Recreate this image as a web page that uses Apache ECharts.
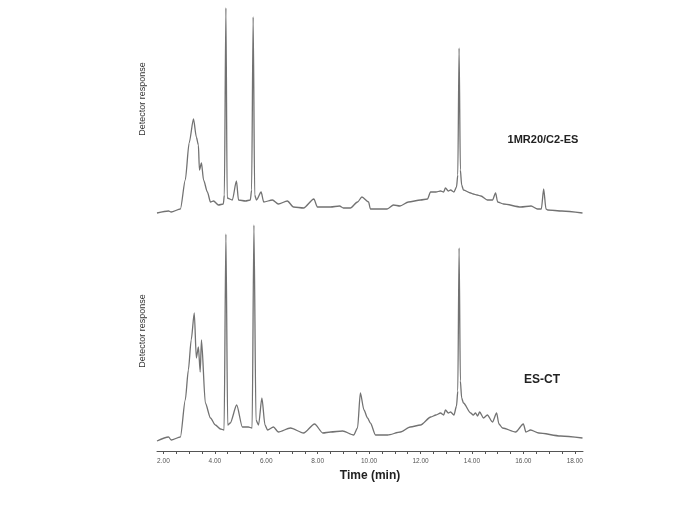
<!DOCTYPE html>
<html><head><meta charset="utf-8">
<script src="https://cdn.jsdelivr.net/npm/echarts@6/dist/echarts.min.js"></script>
<style>html,body{margin:0;padding:0;background:#fff}#c{width:685px;height:505px}</style>
</head><body><div id="c"></div>
<script>
// Time (min) and detector response (arbitrary units) for sample 1MR20/C2-ES
const topTime = [1.75,2.2,2.3,2.66,2.85,3.0,3.17,3.28,3.36,3.4,3.48,3.56,3.71,3.83,3.95,4.14,4.33,4.37,4.43,4.48,4.68,4.84,4.92,5.19,5.38,5.43,5.49,5.55,5.62,5.8,5.9,6.24,6.47,6.82,7.06,7.45,7.85,7.99,8.5,8.85,9.0,9.27,9.55,9.72,9.98,10.05,10.7,10.95,11.2,11.53,12.0,12.27,12.39,12.6,12.78,12.9,12.97,13.08,13.17,13.3,13.4,13.45,13.5,13.55,13.6,13.67,13.95,14.05,14.2,14.35,14.6,14.8,14.92,15.0,15.23,15.9,16.3,16.55,16.7,16.79,16.88,16.95,17.5,18.3];
const topResp = [2,4,3,6,35,72,96,78,70,45,52,35,23,13,14,10,11,20,207,17,15,34,15,14,15,25,198,20,15,23,13,15,11,14,8,7,16,8,8,9,7,7,13,18,13,6,6,10,9,13,15,16,23,23,24,23,27,24,25,23,28,40,167,45,30,25,22,21,20,19,15,15,22,13,11,8,9,6,6,26,6,5,4,2];
// Time (min) and detector response for sample ES-CT
const botTime = [1.75,2.2,2.3,2.66,2.85,2.97,3.08,3.2,3.28,3.36,3.43,3.48,3.63,3.83,4.02,4.22,4.36,4.43,4.5,4.6,4.85,5.07,5.3,5.45,5.52,5.6,5.7,5.83,5.95,6.05,6.28,6.47,6.94,7.45,7.88,8.2,8.5,8.97,9.4,9.55,9.66,9.8,9.94,10.05,10.25,10.72,11.22,11.6,12.0,12.4,12.6,12.78,12.9,12.97,13.08,13.17,13.3,13.4,13.45,13.5,13.55,13.6,13.67,13.95,14.05,14.14,14.22,14.3,14.45,14.6,14.8,14.96,15.05,15.19,15.7,16.0,16.1,16.28,16.6,17.45,18.3];
const botResp = [10,14,11,14,51,81,111,138,93,104,79,111,48,33,26,22,21,217,26,28,46,24,24,23,226,31,26,53,26,21,24,19,23,18,27,18,19,20,16,23,58,41,33,28,16,16,19,24,26,34,36,38,36,41,38,39,36,45,60,203,70,53,48,38,36,38,35,39,33,36,29,38,27,23,19,27,19,21,18,15,13];
const xLabels = [2,4,6,8,10,12,14,16,18];
const xTicks = [2,2.5,3,3.5,4,4.5,5,5.5,6,6.5,7,7.5,8,8.5,9,9.5,10,10.5,11,11.5,12,12.5,13,13.5,14,14.5,15,15.5,16,16.5,17,17.5,18];

const zip = (a,b) => a.map((t,i)=>[t,b[i]]);
const chart = echarts.init(document.getElementById('c'), null, {renderer:'canvas'});
const lineStyle = {color:'#727272', width:1.3};
const FONT = 'Liberation Sans, Arial, sans-serif';
chart.setOption({
  animation:false,
  backgroundColor:'#fff',
  grid:[
    {left:157, right:102, top:0, height:215},
    {left:157, right:102, top:220, height:231}
  ],
  xAxis:[
    {gridIndex:0, type:'value', min:1.75, max:18.32, show:false},
    {gridIndex:1, type:'value', min:1.75, max:18.32,
     name:'Time (min)', nameLocation:'middle', nameGap:19,
     nameTextStyle:{fontFamily:FONT, fontWeight:'bold', fontSize:12, color:'#222'},
     axisLine:{lineStyle:{color:'#555', width:1}},
     axisTick:{customValues:xTicks, length:3, lineStyle:{color:'#555'}},
     axisLabel:{customValues:xLabels, formatter:v=>v.toFixed(2), fontSize:6.5, color:'#555', fontFamily:FONT, margin:7},
     splitLine:{show:false}}
  ],
  yAxis:[
    {gridIndex:0, type:'value', min:0, max:215, show:false},
    {gridIndex:1, type:'value', min:0, max:231, show:false}
  ],
  series:[
    {type:'line', xAxisIndex:0, yAxisIndex:0, data:zip(topTime, topResp), showSymbol:false, lineStyle, smooth:0.25, smoothMonotone:'x'},
    {type:'line', xAxisIndex:1, yAxisIndex:1, data:zip(botTime, botResp), showSymbol:false, lineStyle, smooth:0.25, smoothMonotone:'x'}
  ],
  graphic:[
    {type:'text', x:143, y:99, rotation:Math.PI/2, style:{text:'Detector response', fontFamily:FONT, fontSize:9, fill:'#333', textAlign:'center', textVerticalAlign:'middle'}},
    {type:'text', x:143, y:331, rotation:Math.PI/2, style:{text:'Detector response', fontFamily:FONT, fontSize:9, fill:'#333', textAlign:'center', textVerticalAlign:'middle'}},
    {type:'text', x:543, y:140, style:{text:'1MR20/C2-ES', fontFamily:FONT, fontWeight:'bold', fontSize:11, fill:'#222', textAlign:'center', textVerticalAlign:'middle'}},
    {type:'text', x:542, y:380, style:{text:'ES-CT', fontFamily:FONT, fontWeight:'bold', fontSize:12, fill:'#222', textAlign:'center', textVerticalAlign:'middle'}}
  ]
});
</script></body></html>
